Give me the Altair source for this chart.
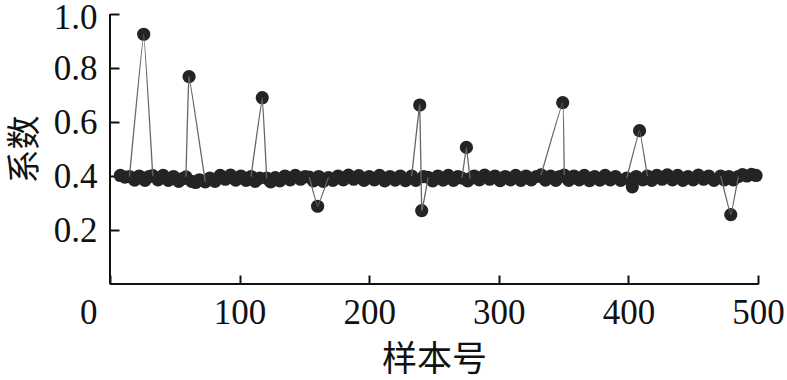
import altair as alt
import pandas as pd

# sample number, coefficient, outlier-excursion id (0 = plain band point)
sample = [8, 11.5, 15, 19, 22.5, 26, 27, 30, 33, 37, 41, 45, 49, 53, 56, 58.6, 61, 63, 66, 69,
          73.5, 77, 81, 85, 89, 93, 97, 101, 105, 108.8, 112, 115.5, 117.5, 120.9, 124, 127.5, 131, 135, 139, 143,
          147, 150.5, 153.8, 157, 160.2, 161, 164.5, 168.5, 172, 176, 180, 184, 188, 192, 196, 200, 204, 208, 212, 216,
          220, 224, 228, 232.8, 236, 239, 240.5, 242, 245.5, 249, 253, 257, 261, 265, 268.5, 271.6, 275, 276, 277.8, 281,
          285, 289, 293, 297, 301, 305, 309, 313, 317, 321, 325, 329, 332.6, 336, 340, 344, 347, 349.3, 350.5, 354,
          358, 362, 366, 370, 374, 378, 382, 386, 390, 394, 398.7, 403, 406, 408.6, 411, 414.6, 418, 422, 426, 430,
          434, 438, 442, 446, 450, 454, 458, 462, 466, 471.2, 474, 477.5, 479, 481, 484.8, 488, 491.5, 495, 498.5]
coef = [0.402, 0.396, 0.398, 0.385, 0.400, 0.925, 0.384, 0.398, 0.401, 0.386, 0.402, 0.384, 0.398, 0.380, 0.390, 0.397, 0.768, 0.380, 0.376, 0.386,
        0.378, 0.392, 0.380, 0.402, 0.388, 0.403, 0.385, 0.400, 0.384, 0.398, 0.380, 0.392, 0.690, 0.392, 0.378, 0.394, 0.382, 0.400, 0.386, 0.402,
        0.388, 0.398, 0.396, 0.382, 0.288, 0.398, 0.380, 0.394, 0.384, 0.400, 0.386, 0.403, 0.388, 0.401, 0.384, 0.398, 0.386, 0.402, 0.382, 0.398,
        0.385, 0.400, 0.383, 0.400, 0.384, 0.663, 0.272, 0.398, 0.395, 0.382, 0.400, 0.385, 0.402, 0.384, 0.398, 0.392, 0.506, 0.382, 0.390, 0.400,
        0.386, 0.403, 0.388, 0.400, 0.383, 0.398, 0.386, 0.402, 0.384, 0.400, 0.386, 0.398, 0.404, 0.385, 0.400, 0.384, 0.398, 0.672, 0.403, 0.384,
        0.400, 0.386, 0.402, 0.383, 0.398, 0.385, 0.402, 0.386, 0.398, 0.384, 0.392, 0.360, 0.398, 0.568, 0.386, 0.400, 0.384, 0.402, 0.388, 0.404,
        0.386, 0.402, 0.384, 0.398, 0.386, 0.403, 0.388, 0.400, 0.384, 0.400, 0.386, 0.398, 0.257, 0.386, 0.398, 0.405, 0.400, 0.406, 0.402]
seg = [0, 0, 1, 0, 0, 1, 0, 0, 1, 0, 0, 0, 0, 0, 0, 2, 2, 0, 0, 0,
       2, 0, 0, 0, 0, 0, 0, 0, 0, 3, 0, 0, 3, 3, 0, 0, 0, 0, 0, 0,
       0, 0, 4, 0, 4, 0, 0, 4, 0, 0, 0, 0, 0, 0, 0, 0, 0, 0, 0, 0,
       0, 0, 0, 5, 0, 5, 5, 0, 5, 0, 0, 0, 0, 0, 0, 6, 6, 0, 6, 0,
       0, 0, 0, 0, 0, 0, 0, 0, 0, 0, 0, 0, 7, 0, 0, 0, 0, 7, 7, 0,
       0, 0, 0, 0, 0, 0, 0, 0, 0, 0, 8, 0, 0, 8, 0, 8, 0, 0, 0, 0,
       0, 0, 0, 0, 0, 0, 0, 0, 0, 9, 0, 0, 9, 0, 9, 0, 0, 0, 0]

x_ticks = [0, 100, 200, 300, 400, 500]
y_ticks = [0.2, 0.4, 0.6, 0.8, 1.0]

df = pd.DataFrame({"sample": sample, "coef": coef, "seg": seg})

serif = "Liberation Serif"
cjk = "Noto Sans CJK SC"
ink = "#111111"

xscale = alt.Scale(domain=[0, 500], nice=False, zero=False)
yscale = alt.Scale(domain=[0, 1], nice=False)

xaxis = alt.Axis(
    values=x_ticks, format="d", title="样本号", domain=False, grid=False,
    tickSize=9, tickWidth=2, tickColor=ink, offset=-9,
    labelFont=serif, labelFontSize=35, labelColor=ink, labelPadding=11,
    labelFlush=False, labelOverlap=False,
    labelAlign={"condition": {"test": "datum.value === 0", "value": "right"}, "value": "center"},
    labelOffset={"condition": {"test": "datum.value === 0", "value": -13}, "value": 0},
    titleFont=cjk, titleFontSize=35, titleFontWeight="normal", titleColor=ink, titlePadding=12,
)
yaxis = alt.Axis(
    values=y_ticks, format=".1f", title="系数", domain=False, grid=False,
    tickSize=9, tickWidth=2, tickColor=ink, offset=-9,
    labelFont=serif, labelFontSize=35, labelColor=ink, labelPadding=13,
    labelFlush=False, labelOverlap=False,
    labelOffset={"condition": {"test": "datum.value === 1", "value": 3}, "value": 0},
    titleFont=cjk, titleFontSize=34, titleFontWeight="normal", titleColor=ink, titlePadding=11,
)

X = alt.X("sample:Q", scale=xscale, axis=xaxis)
Y = alt.Y("coef:Q", scale=yscale, axis=yaxis)

points = alt.Chart(df).mark_circle(size=175, color="#242424", opacity=1).encode(x=X, y=Y)
lines = alt.Chart(df).transform_filter("datum.seg > 0").mark_line(
    interpolate="cardinal", tension=0.8, stroke="#666666", strokeWidth=1.3
).encode(x=X, y=Y, detail="seg:N")

one = alt.Data(values=[{}])
xdomain = alt.Chart(one).mark_rule(color=ink, strokeWidth=2).encode(
    x=alt.X(datum=0, type="quantitative"), x2=alt.X2(datum=500), y=alt.Y(datum=0, type="quantitative"))
ydomain = alt.Chart(one).mark_rule(color=ink, strokeWidth=2).encode(
    x=alt.X(datum=0, type="quantitative"), y=alt.Y(datum=0, type="quantitative"), y2=alt.Y2(datum=1))

chart = alt.layer(points, lines, xdomain, ydomain).properties(
    width=648, height=270,
    autosize=alt.AutoSizeParams(type="none"),
    padding={"left": 110, "top": 14, "right": 29, "bottom": 96},
    background="white",
).configure_view(stroke=None)

chart.save("out.html", embed_options={"renderer": "svg", "actions": False})
